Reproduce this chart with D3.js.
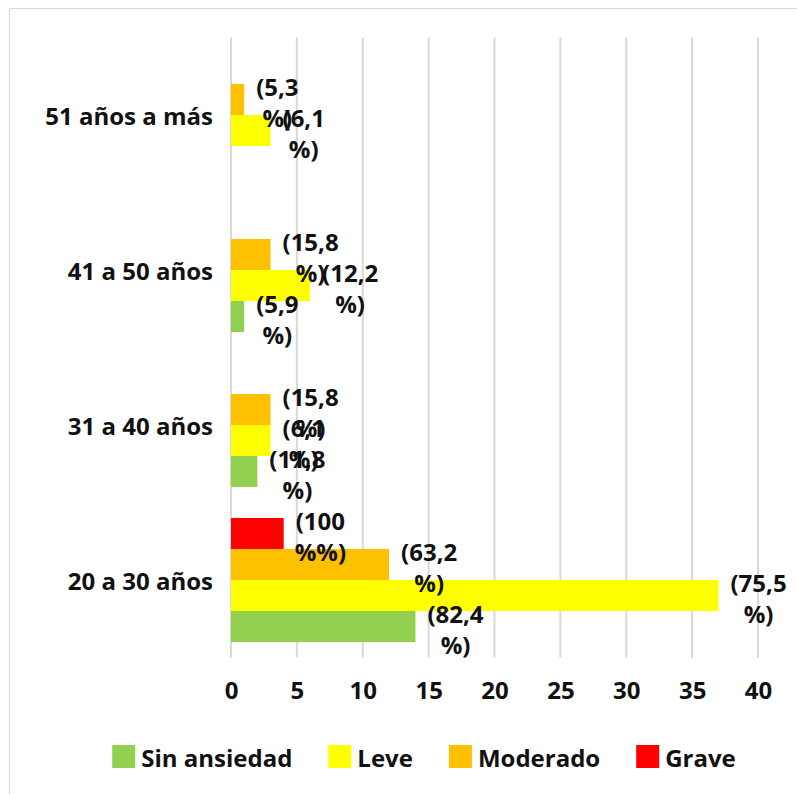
<!DOCTYPE html>
<meta charset="utf-8">
<head>
<script src="https://d3js.org/d3.v7.min.js"></script>
<style>
  body { margin: 0; background: #fff; }
  text { font-family: "Open Sans", "DejaVu Sans", sans-serif; font-weight: bold; fill: #111; }
</style>
</head>
<body>
<svg></svg>
<script>
// Data
var categories = ["20 a 30 años", "31 a 40 años", "41 a 50 años", "51 años a más"];
var series = ["Sin ansiedad", "Leve", "Moderado", "Grave"];
var colors = ["#92d050", "#ffff00", "#ffc000", "#ff0000"];
var sinAnsiedad = [14, 2, 1, 0];
var leve = [37, 3, 6, 3];
var moderado = [12, 3, 3, 1];
var grave = [4, 0, 0, 0];
var sinAnsiedadLbl = ["(82,4 %)", "(11,8 %)", "(5,9 %)", ""];
var leveLbl = ["(75,5 %)", "(6,1 %)", "(12,2 %)", "(6,1 %)"];
var moderadoLbl = ["(63,2 %)", "(15,8 %)", "(15,8 %)", "(5,3 %)"];
var graveLbl = ["(100 %%)", "", "", ""];
var xTicks = [0, 5, 10, 15, 20, 25, 30, 35, 40];

var values = [sinAnsiedad, leve, moderado, grave];
var labels = [sinAnsiedadLbl, leveLbl, moderadoLbl, graveLbl];

var width = 797, height = 794;
var fs = "24px";
var svg = d3.select("svg").attr("width", width).attr("height", height);

// outer frame
svg.append("rect")
  .attr("x", 9.5).attr("y", 8.5)
  .attr("width", width + 20).attr("height", height + 20)
  .attr("fill", "#fff").attr("stroke", "#d9d9d9");

var x = d3.scaleLinear().domain([0, 40]).range([231, 758]);
var y = d3.scaleBand()
  .domain(categories.slice().reverse())
  .range([37.5, 657.5])
  .paddingInner(0.2).paddingOuter(0.1);
var ySub = d3.scaleBand()
  .domain(series.slice().reverse())
  .range([0, y.bandwidth()]);

// gridlines
svg.append("g").selectAll("line")
  .data(xTicks).enter().append("line")
  .attr("x1", function(d) { return x(d); })
  .attr("x2", function(d) { return x(d); })
  .attr("y1", 37.5).attr("y2", 657.5)
  .attr("stroke", "#d9d9d9").attr("stroke-width", 2);

// x axis
var xAxis = svg.append("g")
  .attr("transform", "translate(0,657.5)")
  .call(d3.axisBottom(x).tickValues(xTicks).tickSize(0).tickPadding(24));
xAxis.select(".domain").remove();
xAxis.selectAll("text").style("font-size", fs).attr("fill", "#111");

// category labels
svg.append("g").selectAll("text")
  .data(categories).enter().append("text")
  .attr("x", 213)
  .attr("y", function(d) { return y(d) + y.bandwidth() / 2; })
  .attr("text-anchor", "end")
  .attr("dominant-baseline", "central")
  .style("font-size", fs)
  .text(function(d) { return d; });

// bars
var bars = [];
series.forEach(function(s, si) {
  categories.forEach(function(c, ci) {
    bars.push({ s: s, c: c, v: values[si][ci], lbl: labels[si][ci], color: colors[si] });
  });
});

svg.append("g").selectAll("rect")
  .data(bars).enter().append("rect")
  .attr("x", x(0))
  .attr("y", function(d) { return y(d.c) + ySub(d.s); })
  .attr("width", function(d) { return x(d.v) - x(0); })
  .attr("height", ySub.bandwidth())
  .attr("fill", function(d) { return d.color; });

// data labels (two lines, wrapped like the original)
var lg = svg.append("g");
bars.filter(function(d) { return d.lbl; }).forEach(function(d) {
  var parts = d.lbl.split(" ");
  var cy = y(d.c) + ySub(d.s) + ySub.bandwidth() / 2;
  var x0 = x(d.v) + 12;
  var t1 = lg.append("text")
    .attr("x", x0).attr("y", cy - 13)
    .attr("dominant-baseline", "central")
    .style("font-size", fs)
    .text(parts[0]);
  var w = t1.node().getComputedTextLength();
  lg.append("text")
    .attr("x", x0 + w / 2).attr("y", cy + 18)
    .attr("text-anchor", "middle")
    .attr("dominant-baseline", "central")
    .style("font-size", fs)
    .text(parts[1]);
});

// legend
var legend = svg.append("g");
var lx = 0;
series.forEach(function(s, i) {
  var g = legend.append("g").attr("transform", "translate(" + lx + ",0)");
  g.append("rect").attr("x", 0).attr("y", -12).attr("width", 23).attr("height", 23)
    .attr("fill", colors[i]);
  var t = g.append("text").attr("x", 29).attr("y", 0)
    .attr("dominant-baseline", "central")
    .style("font-size", fs)
    .text(s);
  lx += 29 + t.node().getComputedTextLength() + 36;
});
var legendW = lx - 36;
legend.attr("transform", "translate(" + (424 - legendW / 2) + ",757)");
</script>
</body>
